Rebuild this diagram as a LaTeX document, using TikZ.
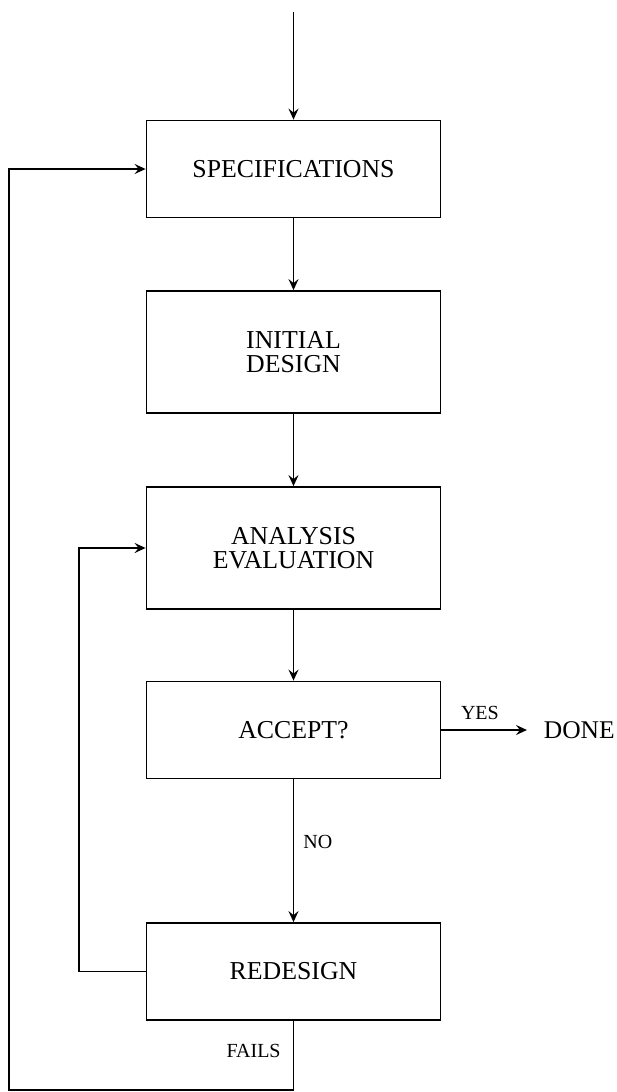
\documentclass[tikz,border=0pt]{standalone}
\usepackage{fontspec}
\setmainfont{Liberation Serif}
\usetikzlibrary{arrows.meta}
\begin{document}
\begin{tikzpicture}[x=1pt,y=-1pt,
  line width=1.8pt,
  >={Stealth[length=11pt,width=10pt,inset=4pt]},
  stepbox/.style={draw,rectangle,minimum width=294pt,align=center,inner sep=0pt,
    font=\fontsize{25.8}{24}\selectfont},
  shortbox/.style={stepbox,minimum height=97pt},
  tallbox/.style={stepbox,minimum height=122pt},
  lbl/.style={font=\fontsize{20}{20}\selectfont,inner sep=0pt}]
\useasboundingbox (0,0) rectangle (617,1092);
\node[shortbox] (spec) at (293.5,169) {SPECIFICATIONS};
\node[tallbox] (init) at (293.5,352) {INITIAL\\DESIGN};
\node[tallbox] (anal) at (293.5,548) {ANALYSIS\\EVALUATION};
\node[shortbox] (acc) at (293.5,730) {ACCEPT?};
\node[shortbox] (red) at (293.5,971.5) {REDESIGN};
\node[anchor=west,inner xsep=16pt,inner ysep=0pt,font=\fontsize{25.5}{24}\selectfont] (done) at (527,730) {DONE};
\coordinate (start) at (293.5,12);
\coordinate (fb) at (9,1090);
\coordinate (lp) at (79,971.5);
\draw[->] (start) -- (spec.north);
\draw[->] (spec.south) -- (init.north);
\draw[->] (init.south) -- (anal.north);
\draw[->] (anal.south) -- (acc.north);
\draw[->] (acc.south) -- node[lbl,pos=0.44,right=9pt] {NO} (red.north);
\draw[->] (acc.east) -- node[lbl,above=9pt,pos=0.45] {YES} (done.west);
\draw[->] (red.west) -- (lp) |- (anal.west);
\draw[->] (red.south) |- node[lbl,pos=0.22,left=12pt] {FAILS} (fb) |- (spec.west);
\end{tikzpicture}
\end{document}
